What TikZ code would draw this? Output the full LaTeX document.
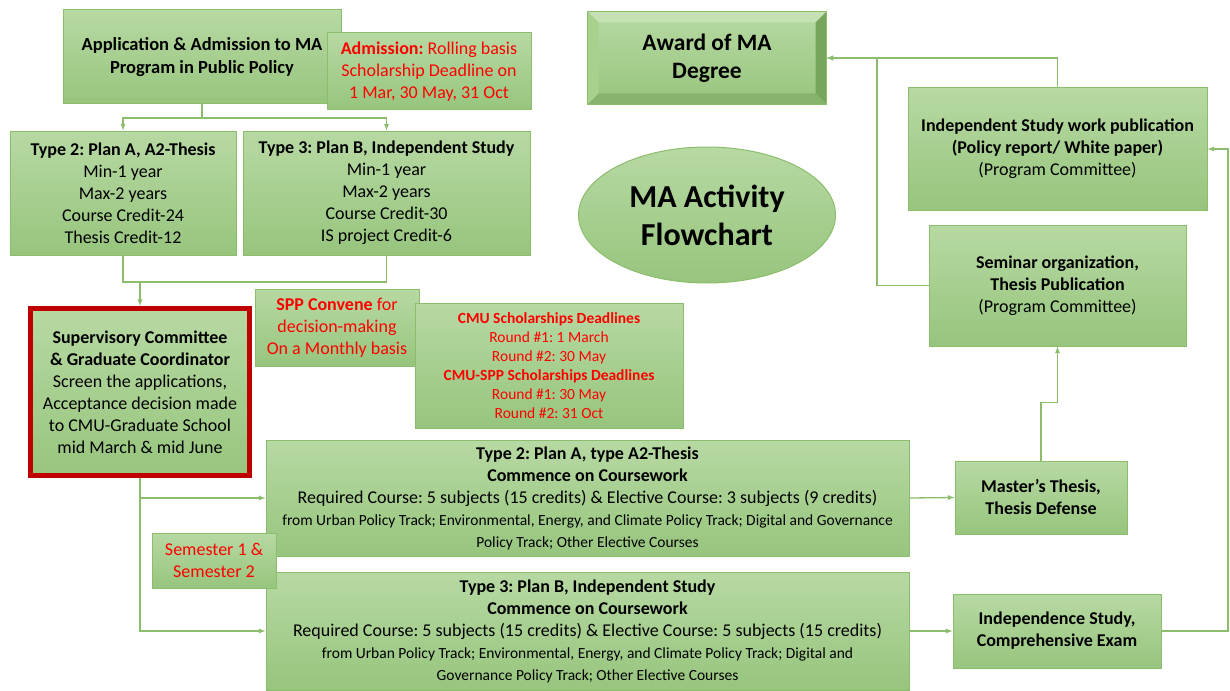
\documentclass[tikz,border=0pt]{standalone}
\usepackage{fontspec}
\setmainfont{Carlito}
\frenchspacing
\usetikzlibrary{arrows,calc,shapes.geometric}
\definecolor{boxtop}{HTML}{B7D9A3}
\definecolor{boxbot}{HTML}{97C57D}
\definecolor{boxline}{HTML}{8CBD6C}
\definecolor{deepred}{HTML}{C00000}
\definecolor{bevlight}{HTML}{C6E2B4}
\definecolor{bevmid}{HTML}{A9D18E}
\definecolor{bevdark}{HTML}{76A65B}
\definecolor{bevlow}{HTML}{87B46D}

\begin{document}
\begin{tikzpicture}[x=1pt,y=-1pt,>=latex,
	box/.style = {draw=boxline,line width=1pt,top color=boxtop,bottom color=boxbot,align=center,inner sep=2pt,font=\fontsize{18}{22}\selectfont},
	note/.style = {box,text=red},
	flow/.style = {draw=boxline,line width=1.3pt}
	]
	\useasboundingbox (0,0) rectangle (1230,690);
	%INGRESSO
	\node[box,minimum width=278,minimum height=94,font=\bfseries\fontsize{18.5}{23}\selectfont] (app) at (202,57) {Application \& Admission to MA\\Program in Public Policy};
	\node[note,minimum width=204,minimum height=77] (admit) at (429,71.5) {\textbf{Admission:} Rolling basis\\Scholarship Deadline on\\1 Mar, 30 May, 31 Oct};
	\node[box,minimum width=226,minimum height=124] (typeA) at (123,193) {\textbf{Type 2: Plan A, A2-Thesis}\\Min-1 year\\Max-2 years\\Course Credit-24\\Thesis Credit-12};
	\node[box,minimum width=287,minimum height=124] (typeB) at (386.5,193) {\textbf{Type 3: Plan B, Independent Study}\\Min-1 year\\Max-2 years\\Course Credit-30\\IS project Credit-6};
	%COMITATO
	\node[box,draw=deepred,line width=5pt,minimum width=219,minimum height=167] (superv) at (140,392) {\textbf{Supervisory Committee}\\\textbf{\& Graduate Coordinator}\\Screen the applications,\\Acceptance decision made\\to CMU-Graduate School\\mid March \& mid June};
	\node[note,minimum width=164,minimum height=77] (spp) at (337,327.5) {\textbf{SPP Convene} for\\decision-making\\On a Monthly basis};
	\node[note,minimum width=268,minimum height=125,font=\fontsize{15.5}{19}\selectfont] (cmu) at (549,365.5) {\textbf{CMU Scholarships Deadlines}\\Round \#1: 1 March\\Round \#2: 30 May\\\textbf{CMU-SPP Scholarships Deadlines}\\Round \#1: 30 May\\Round \#2: 31 Oct};
	%TITOLO
	\node[box,ellipse,inner sep=0pt,minimum width=257,minimum height=136,font=\bfseries\fontsize{32}{38}\selectfont] (title) at (707,215) {MA Activity\\Flowchart};
	%LAUREA
	\node[box,minimum width=238,minimum height=92,font=\bfseries\fontsize{23.5}{28}\selectfont] (award) at (707,58) {Award of MA\\Degree};
	\fill[bevlight] (award.north west) -- (award.north east) -- ($(award.north east)+(-11,11)$) -- ($(award.north west)+(11,11)$) -- cycle;
	\fill[bevmid] (award.north west) -- ($(award.north west)+(11,11)$) -- ($(award.south west)+(11,-11)$) -- (award.south west) -- cycle;
	\fill[bevdark] (award.north east) -- ($(award.north east)+(-11,11)$) -- ($(award.south east)+(-11,-11)$) -- (award.south east) -- cycle;
	\fill[bevlow] (award.south west) -- ($(award.south west)+(11,-11)$) -- ($(award.south east)+(-11,-11)$) -- (award.south east) -- cycle;
	\draw[boxline,line width=1pt] (award.north west) rectangle (award.south east);
	%PUBBLICAZIONI
	\node[box,minimum width=299,minimum height=122] (pub) at (1057.5,149) {\textbf{Independent Study work publication}\\\textbf{(Policy report/ White paper)}\\(Program Committee)};
	\node[box,minimum width=257,minimum height=121] (seminar) at (1057.5,285.5) {\textbf{Seminar organization,}\\\textbf{Thesis Publication}\\(Program Committee)};
	%CORSI
	\node[box,minimum width=643,minimum height=116] (courseA) at (587.5,498) {\textbf{Type 2: Plan A, type A2-Thesis}\\\textbf{Commence on Coursework}\\Required Course: 5 subjects (15 credits) \& Elective Course: 3 subjects (9 credits)\\{\fontsize{15.5}{20}\selectfont from Urban Policy Track; Environmental, Energy, and Climate Policy Track; Digital and Governance}\\{\fontsize{15.5}{20}\selectfont Policy Track; Other Elective Courses}};
	\node[box,minimum width=643,minimum height=118] (courseB) at (587.5,631) {\textbf{Type 3: Plan B, Independent Study}\\\textbf{Commence on Coursework}\\Required Course: 5 subjects (15 credits) \& Elective Course: 5 subjects (15 credits)\\{\fontsize{15.5}{20}\selectfont from Urban Policy Track; Environmental, Energy, and Climate Policy Track; Digital and}\\{\fontsize{15.5}{20}\selectfont Governance Policy Track; Other Elective Courses}};
	\node[note,minimum width=124,minimum height=55] (semester) at (214,560.5) {Semester 1 \&\\Semester 2};
	\node[box,minimum width=172,minimum height=73,font=\bfseries\fontsize{18}{22}\selectfont] (thesis) at (1041,497.5) {Master’s Thesis,\\Thesis Defense};
	\node[box,minimum width=208,minimum height=74,font=\bfseries\fontsize{18}{22}\selectfont] (indep) at (1057,631) {Independence Study,\\Comprehensive Exam};
	%COLLEGAMENTI
	\coordinate (split) at (202,118);
	\coordinate (join) at (140,282);
	\coordinate (rim) at (1228,631);
	\draw[flow] (app.south) -- (split);
	\draw[flow,->] (split) -| (typeA.north);
	\draw[flow,->] (split) -| (typeB.north);
	\draw[flow] (typeA.south) |- (join -| typeB.south) -- (typeB.south);
	\draw[flow,->] (join) -- (superv.north);
	\draw[flow,->] (superv.south) |- (courseA.west);
	\draw[flow,->] (superv.south) |- (courseB.west);
	\draw[flow,->] (courseA.east) -- (thesis.west);
	\draw[flow,->] (courseB.east) -- (indep.west);
	\draw[flow,->] (thesis.north) -- ++(0,-58) -| (seminar.south);
	\draw[flow,->] (seminar.west) -| (877,58) -- (award.east);
	\draw[flow,->] (pub.north) |- (award.east);
	\draw[flow,->] (indep.east) -- (rim) |- (pub.east);
\end{tikzpicture}
\end{document}
